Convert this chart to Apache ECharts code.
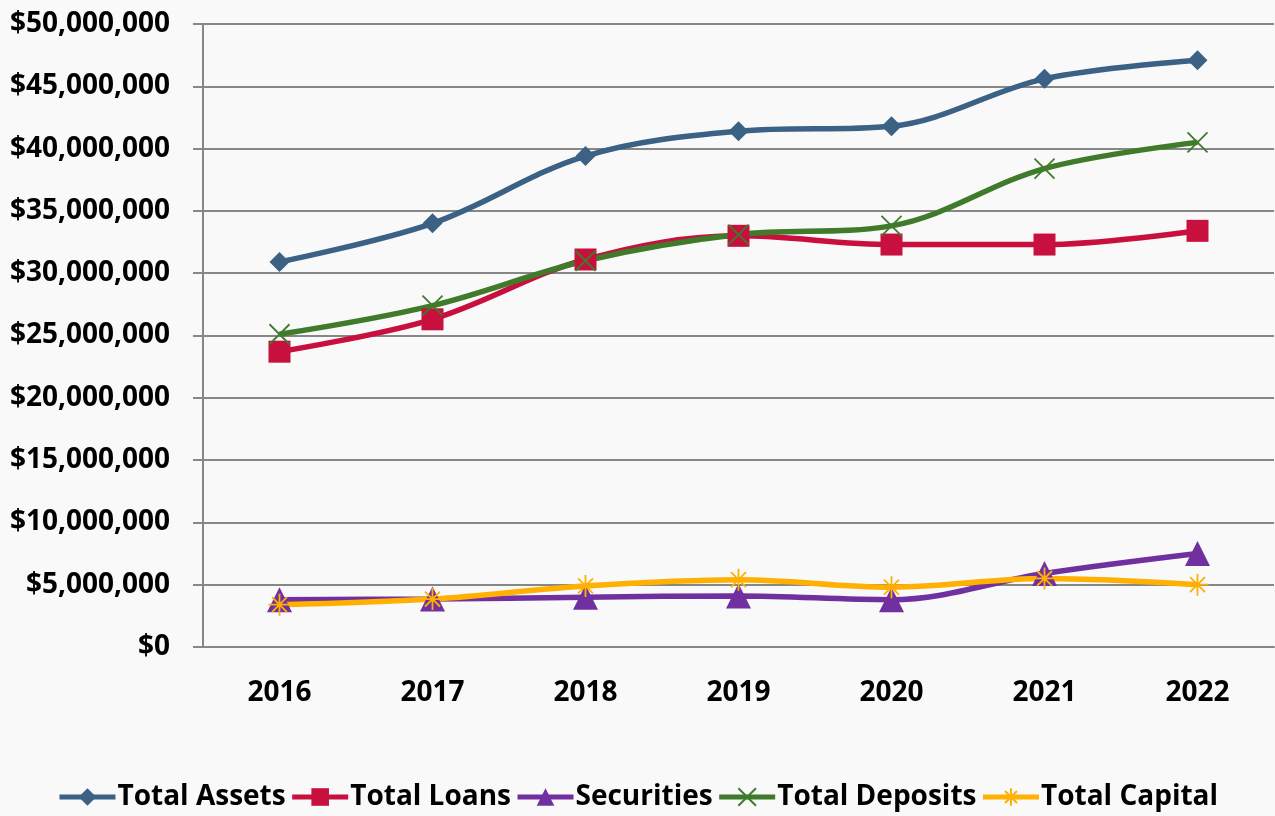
<!DOCTYPE html>
<html><head><meta charset="utf-8">
<script src="https://cdn.jsdelivr.net/npm/echarts@6/dist/echarts.min.js"></script>
<style>html,body{margin:0;padding:0;background:#f9f9f9}#c{width:1275px;height:816px}</style>
</head><body><div id="c"></div>
<script>
const years = ['2016','2017','2018','2019','2020','2021','2022'];
const totalAssets   = [30900000, 34000000, 39400000, 41400000, 41800000, 45600000, 47100000];
const totalLoans    = [23700000, 26300000, 31100000, 33000000, 32300000, 32300000, 33400000];
const securities    = [3800000, 3850000, 4000000, 4100000, 3800000, 5900000, 7500000];
const totalDeposits = [25100000, 27400000, 31000000, 33100000, 33800000, 38400000, 40500000];
const totalCapital  = [3400000, 3850000, 4900000, 5400000, 4800000, 5500000, 5000000];

const FONT = 'Open Sans';
const X_PATH = 'path://M0,0L10,10M10,0L0,10';
const AST_PATH = 'path://M5,0L5,10M0,5L10,5M1.6,1.6L8.4,8.4M8.4,1.6L1.6,8.4';

function mk(name, data, color, symbol, size, stroked){
  return {
    name, type:'line', data, smooth:0.35, symbol, symbolSize:size, showSymbol:true,
    lineStyle:{color, width:5.5},
    itemStyle: stroked ? {color:'rgba(0,0,0,0)', borderColor:color, borderWidth:1.8} : {color, borderWidth:0},
    emphasis:{disabled:true}, z:2
  };
}
const chart = echarts.init(document.getElementById('c'));
chart.setOption({
  backgroundColor:'#f9f9f9',
  animation:false,
  grid:{left:203, right:1, top:24, bottom:169, containLabel:false},
  legend:{
    bottom:0, left:'center', itemWidth:56, itemHeight:22, itemGap:4,
    lineStyle:{width:5},
    textStyle:{fontFamily:FONT, fontSize:28, fontWeight:'bold', color:'#000', padding:[0,0,0,-3]},
    data:['Total Assets','Total Loans','Securities','Total Deposits','Total Capital']
  },
  xAxis:{
    type:'category', data:years, boundaryGap:true,
    axisLine:{lineStyle:{color:'#878787', width:2}},
    axisTick:{alignWithLabel:true, length:10, lineStyle:{color:'#878787', width:2}},
    axisLabel:{fontFamily:FONT, fontSize:28, fontWeight:'bold', color:'#000', margin:32}
  },
  yAxis:{
    type:'value', min:0, max:50000000, interval:5000000,
    axisLine:{show:true, lineStyle:{color:'#878787', width:2}},
    axisTick:{show:true, length:10, lineStyle:{color:'#878787', width:2}},
    splitLine:{lineStyle:{color:'#878787', width:2}},
    axisLabel:{fontFamily:FONT, fontSize:28, fontWeight:'bold', color:'#000', margin:33,
      formatter:v=>'$'+v.toLocaleString('en-US')}
  },
  series:[
    mk('Total Assets', totalAssets, '#3B6184', 'diamond', 20, false),
    mk('Total Loans', totalLoans, '#C8103E', 'rect', 22, false),
    mk('Securities', securities, '#7030A0', 'triangle', 25, false),
    mk('Total Deposits', totalDeposits, '#3F7B2B', X_PATH, 20, true),
    mk('Total Capital', totalCapital, '#FFB000', AST_PATH, 22, true)
  ]
});
</script></body></html>
